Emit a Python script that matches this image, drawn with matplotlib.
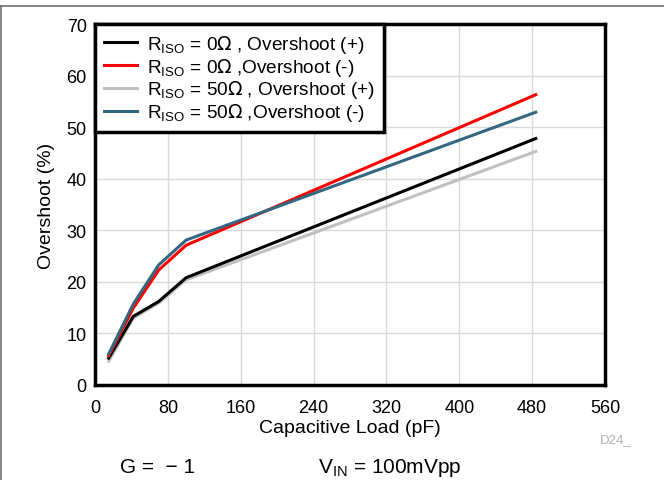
import matplotlib.pyplot as plt
from matplotlib.lines import Line2D

plt.rcParams['font.family'] = ['Liberation Sans', 'DejaVu Sans']

# capacitive load (pF)
cap_load = [15, 42, 70, 100, 484]

# overshoot (%)
r0_pos = [5.2, 13.3, 16.2, 20.8, 47.8]
r0_neg = [5.7, 14.9, 22.3, 27.1, 56.3]
r50_pos = [4.6, 13.0, 15.9, 20.4, 45.3]
r50_neg = [6.0, 15.7, 23.3, 28.1, 52.9]

labels = [r'R$_{\mathregular{ISO}}$ = 0$\Omega$ , Overshoot (+)',
          r'R$_{\mathregular{ISO}}$ = 0$\Omega$ ,Overshoot (-)',
          r'R$_{\mathregular{ISO}}$ = 50$\Omega$ , Overshoot (+)',
          r'R$_{\mathregular{ISO}}$ = 50$\Omega$ ,Overshoot (-)']
colors = ['#000000', '#ff0000', '#c0c0c0', '#336680']
series = [r0_pos, r0_neg, r50_pos, r50_neg]

xticks = [0, 80, 160, 240, 320, 400, 480, 560]
yticks = [0, 10, 20, 30, 40, 50, 60, 70]

fig = plt.figure(figsize=(6.64, 4.81), dpi=100)
ax = fig.add_axes([95 / 664, 1 - 386 / 481, 510 / 664, 361 / 481])

# draw in order so gray sits under black, teal over red
order = [2, 0, 1, 3]
for i in order:
    ax.plot(cap_load, series[i], color=colors[i], lw=2.2, zorder=3)

ax.set_xlim(0, 560)
ax.set_ylim(0, 70)
ax.set_xticks(xticks)
ax.set_yticks(yticks)
ax.tick_params(length=0, labelsize=13, pad=6)
ax.tick_params(axis='x', pad=10)
ax.grid(True, color='#d9d9d9', lw=1)
ax.set_axisbelow(True)
for s in ax.spines.values():
    s.set_linewidth(2.5)
ax.set_xlabel('Capacitive Load (pF)', fontsize=14, labelpad=2)
ax.set_ylabel('Overshoot (%)', fontsize=14, labelpad=8)

handles = [Line2D([], [], color=c, lw=2.2) for c in colors]
leg = ax.legend(handles, labels, loc='upper left', fontsize=13.7,
                frameon=True, fancybox=False, borderaxespad=0,
                handlelength=1.75, handletextpad=0.55, labelspacing=0.05,
                borderpad=0.45)
leg.get_frame().set_edgecolor('black')
leg.get_frame().set_linewidth(2.5)
leg.get_frame().set_alpha(1)

fig.text(600 / 664, 1 - 440 / 481, 'D24_', fontsize=9.5, color='#b0b0b0',
         ha='left', va='center')
fig.text(120 / 664, 1 - 468 / 481, 'G =  \u2212 1', fontsize=15,
         ha='left', va='center')
fig.text(318 / 664, 1 - 468 / 481, r'V$_{\mathregular{IN}}$ = 100mVpp',
         fontsize=15, ha='left', va='center')

# page frame lines
fig.add_artist(Line2D([0, 1], [1 - 7 / 481, 1 - 7 / 481], color='#707070',
                      lw=1.2, transform=fig.transFigure))
fig.add_artist(Line2D([0.001, 0.001], [0, 1 - 7 / 481], color='#707070',
                      lw=1.2, transform=fig.transFigure))

fig.savefig('out.png', dpi=100)
